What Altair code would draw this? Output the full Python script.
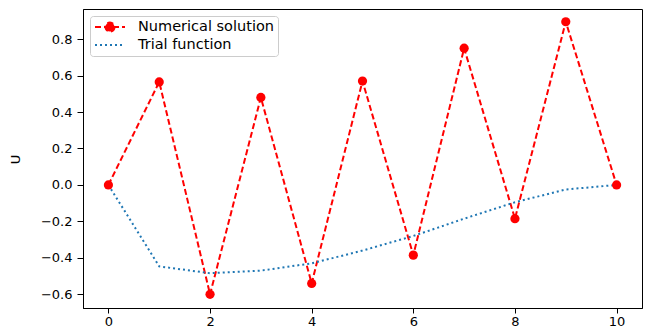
import altair as alt
import pandas as pd

# ---- data ----
x_vals = [0, 1, 2, 3, 4, 5, 6, 7, 8, 9, 10]
numerical = [0.0, 0.565, -0.60, 0.48, -0.54, 0.57, -0.385, 0.75, -0.185, 0.895, 0.0]
trial = [0.0, -0.447, -0.484, -0.47, -0.43, -0.36, -0.28, -0.185, -0.095, -0.025, 0.0]
series_names = ["Numerical solution", "Trial function"]
x_ticks = [0, 2, 4, 6, 8, 10]
y_ticks = [-0.6, -0.4, -0.2, 0.0, 0.2, 0.4, 0.6, 0.8]

rows = []
for xv, yv in zip(x_vals, numerical):
    rows.append({"x": xv, "U": yv, "series": series_names[0]})
for xv, yv in zip(x_vals, trial):
    rows.append({"x": xv, "U": yv, "series": series_names[1]})
df = pd.DataFrame(rows)

FONT = "DejaVu Sans"

xscale = alt.Scale(domain=[-0.5, 10.5], nice=False, zero=False)
yscale = alt.Scale(domain=[-0.675, 0.965], nice=False, zero=False)

xaxis = alt.Axis(values=x_ticks, title=None, grid=False, format="d",
                 labelFont=FONT, labelFontSize=13, labelColor="#000000",
                 tickColor="#000000", tickSize=5, labelPadding=2,
                 domainColor="#000000")
yaxis = alt.Axis(values=y_ticks, title="U", grid=False, format=".1f",
                 labelFont=FONT, labelFontSize=13, labelColor="#000000",
                 tickColor="#000000", tickSize=6, labelPadding=5,
                 domainColor="#000000",
                 titleFont=FONT, titleFontSize=13, titleFontWeight="normal",
                 titleColor="#000000", titleAngle=-90, titleX=-68, titleY=150,
                 titleAlign="center", titleBaseline="middle")

num_path = "M-1,0H1M0.3,0A0.3,0.3,0,1,1,-0.3,0A0.3,0.3,0,1,1,0.3,0Z"
trial_path = "M-1,0H1"
is_num = f"datum.value === '{series_names[0]}'"

legend = alt.Legend(
    title=None, orient="top-left", offset=7,
    labelFont=FONT, labelFontSize=14.5, labelColor="#000000",
    symbolSize=900, symbolStrokeWidth=2, clipHeight=14, rowPadding=3,
    labelOffset=12, padding=4, strokeColor="#cccccc", cornerRadius=3,
    fillColor="#ffffff",
    symbolType={"expr": f"{is_num} ? '{num_path}' : '{trial_path}'"},
    symbolFillColor={"expr": f"{is_num} ? '#ff0000' : 'transparent'"},
    symbolStrokeColor={"expr": f"{is_num} ? '#ff0000' : '#1f77b4'"},
)

color = alt.Color("series:N", scale=alt.Scale(domain=series_names, range=["#ff0000", "#1f77b4"]),
                  legend=legend)
dash = alt.StrokeDash("series:N", scale=alt.Scale(domain=series_names, range=[[6, 3], [2, 3]]),
                      legend=legend)

lines = alt.Chart(df).mark_line(strokeWidth=2).encode(
    x=alt.X("x:Q", scale=xscale, axis=xaxis),
    y=alt.Y("U:Q", scale=yscale, axis=yaxis),
    color=color,
    strokeDash=dash,
    order="x:Q",
)

points = alt.Chart(df).transform_filter(
    alt.datum.series == series_names[0]
).mark_point(filled=True, shape="circle", size=85, opacity=1).encode(
    x=alt.X("x:Q", scale=xscale),
    y=alt.Y("U:Q", scale=yscale),
    color=alt.value("#ff0000"),
)

chart = alt.layer(lines, points).properties(
    width=559, height=299,
    autosize=alt.AutoSizeParams(type="none"),
    padding={"left": 75, "top": 1, "right": 1, "bottom": 21},
).configure(background="#ffffff").configure_view(stroke="#000000", strokeWidth=1)

chart.save("out.html", embed_options={"renderer": "svg", "actions": False})
